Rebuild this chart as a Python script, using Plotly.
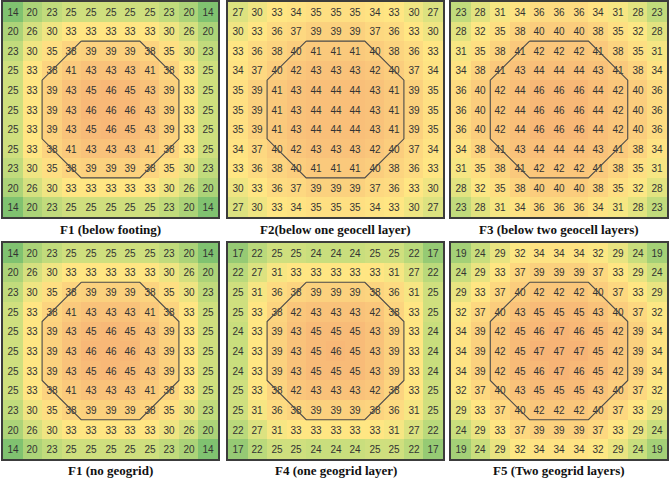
import plotly.graph_objects as go
import numpy as np

# ---------------- data ----------------
titles = ["F1 (below footing)", "F2(below one geocell layer)", "F3 (below two geocell layers)",
          "F1 (no geogrid)", "F4 (one geogrid layer)", "F5 (Two geogrid layers)"]

f1_below_footing = [
    [14, 20, 23, 25, 25, 25, 25, 25, 23, 20, 14],
    [20, 26, 30, 33, 33, 33, 33, 33, 30, 26, 20],
    [23, 30, 35, 38, 39, 39, 39, 38, 35, 30, 23],
    [25, 33, 38, 41, 43, 43, 43, 41, 38, 33, 25],
    [25, 33, 39, 43, 45, 46, 45, 43, 39, 33, 25],
    [25, 33, 39, 43, 46, 46, 46, 43, 39, 33, 25],
    [25, 33, 39, 43, 45, 46, 45, 43, 39, 33, 25],
    [25, 33, 38, 41, 43, 43, 43, 41, 38, 33, 25],
    [23, 30, 35, 38, 39, 39, 39, 38, 35, 30, 23],
    [20, 26, 30, 33, 33, 33, 33, 33, 30, 26, 20],
    [14, 20, 23, 25, 25, 25, 25, 25, 23, 20, 14],
]
f2_one_geocell = [
    [27, 30, 33, 34, 35, 35, 35, 34, 33, 30, 27],
    [30, 33, 36, 37, 39, 39, 39, 37, 36, 33, 30],
    [33, 36, 38, 40, 41, 41, 41, 40, 38, 36, 33],
    [34, 37, 40, 42, 43, 43, 43, 42, 40, 37, 34],
    [35, 39, 41, 43, 44, 44, 44, 43, 41, 39, 35],
    [35, 39, 41, 43, 44, 44, 44, 43, 41, 39, 35],
    [35, 39, 41, 43, 44, 44, 44, 43, 41, 39, 35],
    [34, 37, 40, 42, 43, 43, 43, 42, 40, 37, 34],
    [33, 36, 38, 40, 41, 41, 41, 40, 38, 36, 33],
    [30, 33, 36, 37, 39, 39, 39, 37, 36, 33, 30],
    [27, 30, 33, 34, 35, 35, 35, 34, 33, 30, 27],
]
f3_two_geocell = [
    [23, 28, 31, 34, 36, 36, 36, 34, 31, 28, 23],
    [28, 32, 35, 38, 40, 40, 40, 38, 35, 32, 28],
    [31, 35, 38, 41, 42, 42, 42, 41, 38, 35, 31],
    [34, 38, 41, 43, 44, 44, 44, 43, 41, 38, 34],
    [36, 40, 42, 44, 46, 46, 46, 44, 42, 40, 36],
    [36, 40, 42, 44, 46, 46, 46, 44, 42, 40, 36],
    [36, 40, 42, 44, 46, 46, 46, 44, 42, 40, 36],
    [34, 38, 41, 43, 44, 44, 44, 43, 41, 38, 34],
    [31, 35, 38, 41, 42, 42, 42, 41, 38, 35, 31],
    [28, 32, 35, 38, 40, 40, 40, 38, 35, 32, 28],
    [23, 28, 31, 34, 36, 36, 36, 34, 31, 28, 23],
]
f1_no_geogrid = [
    [14, 20, 23, 25, 25, 25, 25, 25, 23, 20, 14],
    [20, 26, 30, 33, 33, 33, 33, 33, 30, 26, 20],
    [23, 30, 35, 38, 39, 39, 39, 38, 35, 30, 23],
    [25, 33, 38, 41, 43, 43, 43, 41, 38, 33, 25],
    [25, 33, 39, 43, 45, 46, 45, 43, 39, 33, 25],
    [25, 33, 39, 43, 46, 46, 46, 43, 39, 33, 25],
    [25, 33, 39, 43, 45, 46, 45, 43, 39, 33, 25],
    [25, 33, 38, 41, 43, 43, 43, 41, 38, 33, 25],
    [23, 30, 35, 38, 39, 39, 39, 38, 35, 30, 23],
    [20, 26, 30, 33, 33, 33, 33, 33, 30, 26, 20],
    [14, 20, 23, 25, 25, 25, 25, 25, 23, 20, 14],
]
f4_one_geogrid = [
    [17, 22, 25, 25, 24, 24, 24, 25, 25, 22, 17],
    [22, 27, 31, 33, 33, 33, 33, 33, 31, 27, 22],
    [25, 31, 36, 38, 39, 39, 39, 38, 36, 31, 25],
    [25, 33, 38, 42, 43, 43, 43, 42, 38, 33, 25],
    [24, 33, 39, 43, 45, 45, 45, 43, 39, 33, 24],
    [24, 33, 39, 43, 45, 46, 45, 43, 39, 33, 24],
    [24, 33, 39, 43, 45, 45, 45, 43, 39, 33, 24],
    [25, 33, 38, 42, 43, 43, 43, 42, 38, 33, 25],
    [25, 31, 36, 38, 39, 39, 39, 38, 36, 31, 25],
    [22, 27, 31, 33, 33, 33, 33, 33, 31, 27, 22],
    [17, 22, 25, 25, 24, 24, 24, 25, 25, 22, 17],
]
f5_two_geogrid = [
    [19, 24, 29, 32, 34, 34, 34, 32, 29, 24, 19],
    [24, 29, 33, 37, 39, 39, 39, 37, 33, 29, 24],
    [29, 33, 37, 40, 42, 42, 42, 40, 37, 33, 29],
    [32, 37, 40, 43, 45, 45, 45, 43, 40, 37, 32],
    [34, 39, 42, 45, 46, 47, 46, 45, 42, 39, 34],
    [34, 39, 42, 45, 47, 47, 47, 45, 42, 39, 34],
    [34, 39, 42, 45, 46, 47, 46, 45, 42, 39, 34],
    [32, 37, 40, 43, 45, 45, 45, 43, 40, 37, 32],
    [29, 33, 37, 40, 42, 42, 42, 40, 37, 33, 29],
    [24, 29, 33, 37, 39, 39, 39, 37, 33, 29, 24],
    [19, 24, 29, 32, 34, 34, 34, 32, 29, 24, 19],
]
grids = [f1_below_footing, f2_one_geocell, f3_two_geocell,
         f1_no_geogrid, f4_one_geogrid, f5_two_geogrid]

# footing outline (octagon) in cell coordinates
octagon_x = [3.5, 6.5, 8.5, 8.5, 6.5, 3.5, 1.5, 1.5, 3.5]
octagon_y = [1.5, 1.5, 3.5, 6.5, 8.5, 8.5, 6.5, 3.5, 1.5]

# ---------------- layout helpers ----------------
W, H = 669, 481
panels_px = [  # left, right, top, bottom
    (3, 218, 2, 217), (228, 443, 2, 217), (451, 667, 2, 217),
    (3, 218, 243, 459), (228, 443, 243, 459), (451, 667, 243, 459),
]
caption_y_px = [229, 229, 229, 470, 470, 470]

ZMIN, ZMAX = 14, 47
colorscale = [[0.0, "rgb(128,194,112)"], [0.30, "rgb(200,222,125)"],
              [0.56, "rgb(255,232,132)"], [1.0, "rgb(247,180,118)"]]

fig = go.Figure()
layout = {}
annotations = []
for i, (grid, (l, r, t, b)) in enumerate(zip(grids, panels_px)):
    k = "" if i == 0 else str(i + 1)
    z = np.array(grid)
    fig.add_trace(go.Heatmap(
        z=z, text=z, texttemplate="%{text}",
        textfont=dict(family="Liberation Sans", size=10, color="#333333"),
        colorscale=colorscale, zmin=ZMIN, zmax=ZMAX, showscale=False,
        xaxis="x" + k, yaxis="y" + k, hoverinfo="skip"))
    fig.add_trace(go.Scatter(
        x=octagon_x, y=octagon_y, mode="lines",
        line=dict(color="#4a4a4a", width=1.1), showlegend=False,
        xaxis="x" + k, yaxis="y" + k, hoverinfo="skip"))
    ax = dict(showgrid=False, zeroline=False, showticklabels=False, ticks="",
              showline=True, mirror=True, linecolor="#3c3c3c", linewidth=1.6)
    layout["xaxis" + k] = dict(ax, domain=[l / W, r / W], range=[-0.5, 10.5],
                               anchor="y" + k)
    layout["yaxis" + k] = dict(ax, domain=[1 - b / H, 1 - t / H], range=[10.5, -0.5],
                               anchor="x" + k)
    annotations.append(dict(
        text="<b>" + titles[i] + "</b>", xref="paper", yref="paper",
        x=(l + r) / 2 / W, y=1 - caption_y_px[i] / H, xanchor="center", yanchor="middle",
        showarrow=False,
        font=dict(family="Times New Roman, Liberation Serif, serif", size=13, color="#111")))

fig.update_layout(
    width=W, height=H, margin=dict(l=0, r=0, t=0, b=0),
    paper_bgcolor="white", plot_bgcolor="white", showlegend=False,
    annotations=annotations, **layout)

fig.write_html("out.html")
